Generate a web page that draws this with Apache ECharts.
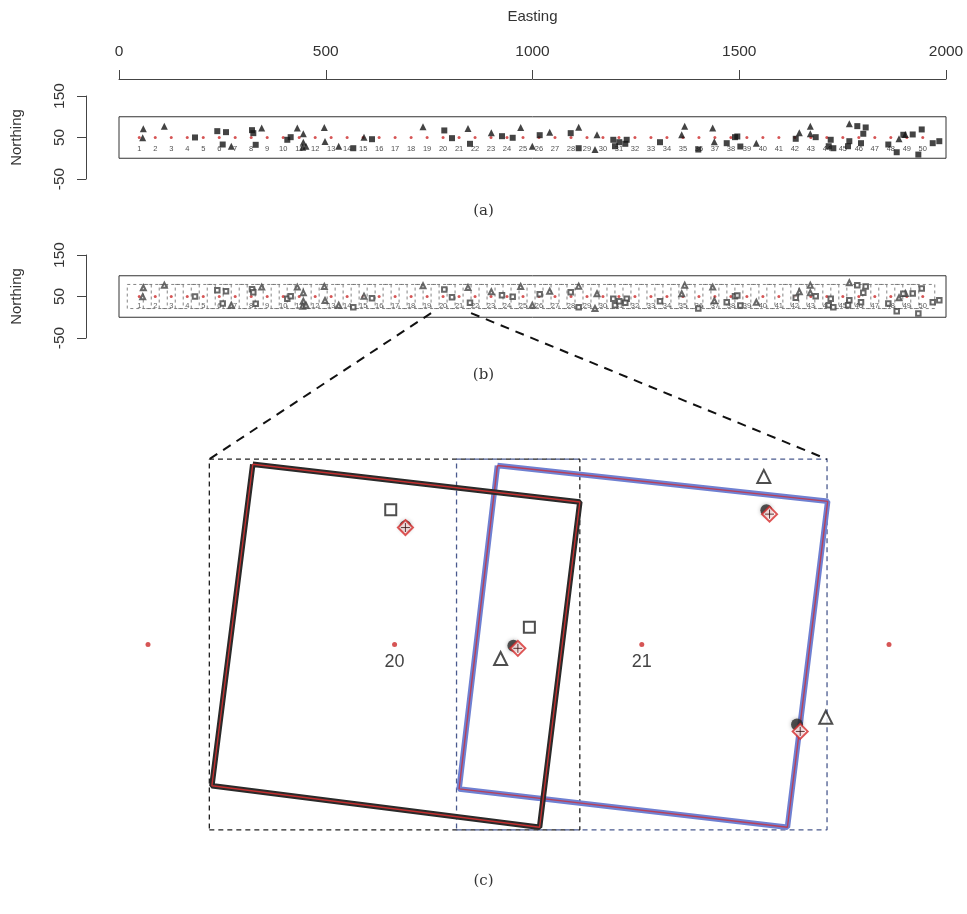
<!DOCTYPE html>
<html>
<head>
<meta charset="utf-8">
<script src="https://cdn.jsdelivr.net/npm/echarts@6/dist/echarts.min.js"></script>
<style>
  html, body { margin: 0; padding: 0; background: #fff; }
  #main { width: 967px; height: 914px; }
</style>
</head>
<body>
<div id="main"></div>
<script>
// sampling locations along the strip (easting of each cell centre, northing 50)
const cellCenterX = [49, 87.7, 126.3, 165, 203.7, 242.4, 281, 319.7, 358.4, 397,
  435.7, 474.4, 513, 551.7, 590.4, 629.1, 667.7, 706.4, 745.1, 783.7,
  822.4, 861.1, 899.7, 938.4, 977.1, 1015.8, 1054.4, 1093.1, 1131.8, 1170.4,
  1209.1, 1247.8, 1286.4, 1325.1, 1363.8, 1402.5, 1441.1, 1479.8, 1518.5, 1557.1,
  1595.8, 1634.5, 1673.1, 1711.8, 1750.5, 1789.2, 1827.8, 1866.5, 1905.2, 1943.8];
const centerNorthing = 50;
const frameHalf = 29;
const stripEasting = [0, 2000];
const stripNorthing = [0, 100];
const eastingTicks = [0, 500, 1000, 1500, 2000];
const northingTicks = [-50, 50, 150];

// observations in the strip (panels a and b)
const triangles = [[58.8, 71.1], [57.3, 49.3], [109.6, 77.4], [271.6, 29], [345.1, 72.6],
  [431.2, 72.6], [445.7, 59], [445.7, 38.7], [444.3, 26.6], [452.2, 29], [496.5, 74.2],
  [498.2, 40.4], [531.3, 29], [592.5, 50.8], [735.2, 75.9], [844, 71.8], [900.4, 61.4],
  [971.4, 74.2], [999.5, 29], [1041.6, 62.9], [1111.7, 75], [1156, 56.6], [1151.1, 21],
  [1368.1, 77.4], [1360.8, 56.6], [1435.8, 72.6], [1439.7, 39.7], [1541.3, 36.3],
  [1645.3, 61.4], [1671.8, 77.4], [1671.8, 59], [1766.2, 83.2], [1886.4, 46.9], [1901.6, 57.3]];
const squares = [[183.8, 50.1], [237.7, 65.3], [258.8, 62.9], [250.8, 33.1], [321.6, 67.7],
  [324.8, 60.5], [330.6, 32.4], [407, 44.5], [415.2, 50.8], [566.6, 24.2], [611.8, 45.9],
  [786.7, 67], [805.3, 48.4], [848.8, 34.8], [926.2, 53.2], [952.1, 49.3], [1017.4, 55.6],
  [1092.4, 60.5], [1111.7, 24.2], [1195.4, 44.5], [1199.5, 29], [1209.9, 38.7], [1227.8, 44.5],
  [1224.4, 34.8], [1308.3, 38.7], [1401, 21], [1469.7, 36.3], [1489.7, 50.8], [1495.3, 52.5],
  [1502.6, 28.3], [1636.6, 46.9], [1684.9, 50.8], [1716.4, 29], [1721.2, 44.5], [1727.5, 24.2],
  [1766.2, 41.1], [1763, 29], [1785.5, 77.4], [1805.8, 74.2], [1800, 59], [1794.5, 36.3],
  [1860.5, 33.1], [1880.8, 14.5], [1896.8, 56.6], [1919.5, 57.3], [1933.1, 8.9], [1941.3, 69.4],
  [1967.9, 36.3], [1983.8, 41.1]];

// zoomed view (panel c): cells 19-22, frames of cells 20 and 21
const zoomCells = [19, 20, 21, 22];
const labelledCells = [20, 21];
const quad20 = [[761.5, 78.2], [812.7, 72.3], [806.4, 21.4], [755.1, 27.9]];
const quad21 = [[799.8, 78.0], [851.5, 72.4], [845.2, 21.4], [793.8, 27.4]];
const squaresC = [[783.1, 71.1], [804.8, 52.7]];
const trianglesC = [[800.3, 47.8], [841.5, 76.3], [851.2, 38.6]];
const clustersC = [[785.4, 68.5], [802.3, 49.8], [841.9, 71.0], [846.7, 37.5]];
const diamondsC = [[785.4, 68.3], [803.0, 49.4], [842.4, 70.4], [847.2, 36.4]];

const sans = 'Liberation Sans, Arial, sans-serif';
const serif = 'DejaVu Serif, Liberation Serif, serif';
const red = '#cc2a2a';

function boxData() {
  return [[stripEasting[0], stripNorthing[0]], [stripEasting[1], stripNorthing[0]],
    [stripEasting[1], stripNorthing[1]], [stripEasting[0], stripNorthing[1]],
    [stripEasting[0], stripNorthing[0]]];
}
function frameData(cx) {
  const y = centerNorthing;
  return [[cx - frameHalf, y - frameHalf], [cx + frameHalf, y - frameHalf],
    [cx + frameHalf, y + frameHalf], [cx - frameHalf, y + frameHalf], [cx - frameHalf, y - frameHalf]];
}
function closed(q) { return q.concat([q[0]]); }

const centers = cellCenterX.map((x, i) => [x, centerNorthing, i + 1]);

function lineSeries(gi, data, color, width, type) {
  return {
    type: 'line', xAxisIndex: gi, yAxisIndex: gi, data: data, symbol: 'none', silent: true,
    lineStyle: { color: color, width: width, type: type || 'solid' }, z: 2
  };
}

let myChart = echarts.init(document.getElementById('main'), null, { renderer: 'canvas' });

const yAxisBase = {
  type: 'value', min: -50, max: 150, offset: 33,
  axisLine: { show: true, onZero: false, lineStyle: { color: '#444', width: 1 } },
  axisTick: { show: true, length: 9, customValues: northingTicks, lineStyle: { color: '#444' } },
  axisLabel: { show: true, rotate: 90, customValues: northingTicks, margin: 18, fontSize: 15.5, color: '#333',
    fontFamily: sans, formatter: v => String(v) },
  splitLine: { show: false },
  name: 'Northing', nameLocation: 'middle', nameGap: 62,
  nameTextStyle: { fontSize: 15, color: '#333', fontFamily: sans }
};

myChart.setOption({
  animation: false,
  backgroundColor: '#fff',
  textStyle: { fontFamily: sans },
  title: [
    { text: '(a)', left: 'center', top: 204, padding: 0, textStyle: { fontFamily: serif, fontWeight: 'normal', fontSize: 15, color: '#333' } },
    { text: '(b)', left: 'center', top: 368, padding: 0, textStyle: { fontFamily: serif, fontWeight: 'normal', fontSize: 15, color: '#333' } },
    { text: '(c)', left: 'center', top: 874, padding: 0, textStyle: { fontFamily: serif, fontWeight: 'normal', fontSize: 15, color: '#333' } }
  ],
  grid: [
    { left: 119, top: 96, width: 827, height: 83 },
    { left: 119, top: 255, width: 827, height: 83 },
    { left: 148, top: 440, width: 741, height: 409 }
  ],
  xAxis: [
    {
      gridIndex: 0, type: 'value', position: 'top', min: 0, max: 2000, interval: 500, offset: 17,
      axisLine: { show: true, onZero: false, lineStyle: { color: '#444', width: 1 } },
      axisTick: { show: true, length: 9, customValues: eastingTicks, lineStyle: { color: '#444' } },
      axisLabel: { margin: 19, fontSize: 15.5, color: '#333', fontFamily: sans, customValues: eastingTicks,
        formatter: v => String(v) },
      splitLine: { show: false },
      name: 'Easting', nameLocation: 'middle', nameGap: 55,
      nameTextStyle: { fontSize: 15, color: '#333', fontFamily: sans }
    },
    { gridIndex: 1, type: 'value', min: 0, max: 2000, show: false, splitLine: { show: false } },
    { gridIndex: 2, type: 'value', min: cellCenterX[18], max: cellCenterX[21], show: false, splitLine: { show: false } }
  ],
  yAxis: [
    Object.assign({ gridIndex: 0 }, yAxisBase),
    Object.assign({ gridIndex: 1 }, yAxisBase),
    { gridIndex: 2, type: 'value', min: 18, max: 82, show: false, splitLine: { show: false } }
  ],
  series: [
    // ---- panel (a)
    lineSeries(0, boxData(), '#333', 1),
    {
      type: 'scatter', xAxisIndex: 0, yAxisIndex: 0, data: centers, symbol: 'circle', symbolSize: 3,
      itemStyle: { color: red }, z: 3,
      label: { show: true, position: 'bottom', distance: 6, formatter: p => p.value[2], fontSize: 7.5, color: '#222' }
    },
    {
      type: 'scatter', xAxisIndex: 0, yAxisIndex: 0, data: triangles, symbol: 'triangle', symbolSize: 7,
      itemStyle: { color: '#151515' }, z: 4
    },
    {
      type: 'scatter', xAxisIndex: 0, yAxisIndex: 0, data: squares, symbol: 'rect', symbolSize: 6,
      itemStyle: { color: '#151515' }, z: 4
    },
    // ---- panel (b)
    lineSeries(1, boxData(), '#333', 1),
    {
      type: 'custom', xAxisIndex: 1, yAxisIndex: 1, data: centers, silent: true, z: 2,
      renderItem: function (params, api) {
        const cx = api.value(0), cy = api.value(1);
        const p1 = api.coord([cx - frameHalf, cy + frameHalf]);
        const p2 = api.coord([cx + frameHalf, cy - frameHalf]);
        return {
          type: 'rect',
          shape: { x: p1[0], y: p1[1], width: p2[0] - p1[0], height: p2[1] - p1[1] },
          style: { fill: 'none', stroke: '#666', lineWidth: 0.8, lineDash: [3, 3] }
        };
      }
    },
    {
      type: 'scatter', xAxisIndex: 1, yAxisIndex: 1, data: centers, symbol: 'circle', symbolSize: 3,
      itemStyle: { color: red }, z: 3,
      label: { show: true, position: 'bottom', distance: 4, formatter: p => p.value[2], fontSize: 7.5, color: '#333' }
    },
    {
      type: 'scatter', xAxisIndex: 1, yAxisIndex: 1, data: triangles, symbol: 'emptyTriangle', symbolSize: 5,
      itemStyle: { color: '#444', borderWidth: 0.8 }, z: 4
    },
    {
      type: 'scatter', xAxisIndex: 1, yAxisIndex: 1, data: squares, symbol: 'emptyRect', symbolSize: 4.5,
      itemStyle: { color: '#444', borderWidth: 0.8 }, z: 4
    },
    // ---- panel (c)
    lineSeries(2, frameData(cellCenterX[19]), '#222', 1.3, [5, 4]),
    lineSeries(2, frameData(cellCenterX[20]), '#4a5a8e', 1.3, [5, 4]),
    lineSeries(2, closed(quad21), '#6f80d2', 5.5),
    lineSeries(2, closed(quad21), '#b8405a', 1.4),
    lineSeries(2, closed(quad20), '#2a2a2a', 5.5),
    lineSeries(2, closed(quad20), '#c23030', 1.4),
    {
      type: 'scatter', xAxisIndex: 2, yAxisIndex: 2, clip: false, z: 5,
      data: zoomCells.map(c => ({
        value: [cellCenterX[c - 1], centerNorthing, c],
        label: { show: labelledCells.indexOf(c) >= 0 }
      })),
      symbol: 'circle', symbolSize: 5, itemStyle: { color: red },
      label: { position: 'bottom', distance: 6, formatter: p => p.value[2], fontSize: 18, color: '#111' }
    },
    {
      type: 'scatter', xAxisIndex: 2, yAxisIndex: 2, data: squaresC, symbol: 'emptyRect', symbolSize: 11,
      itemStyle: { color: '#222', borderWidth: 1.3 }, z: 5
    },
    {
      type: 'scatter', xAxisIndex: 2, yAxisIndex: 2, data: trianglesC, symbol: 'emptyTriangle', symbolSize: 13,
      itemStyle: { color: '#222', borderWidth: 1.3 }, z: 5
    },
    {
      type: 'scatter', xAxisIndex: 2, yAxisIndex: 2, data: clustersC, symbol: 'circle', symbolSize: 12,
      itemStyle: { color: '#2b2b2b', shadowBlur: 4, shadowColor: 'rgba(0,0,0,0.35)' }, z: 5
    },
    {
      type: 'scatter', xAxisIndex: 2, yAxisIndex: 2, data: diamondsC, symbol: 'circle', symbolSize: 9,
      itemStyle: { color: 'rgba(200,45,45,0.85)' }, z: 6
    },
    {
      type: 'scatter', xAxisIndex: 2, yAxisIndex: 2, data: diamondsC, symbol: 'emptyDiamond', symbolSize: 15,
      itemStyle: { color: '#d42a2a', borderWidth: 1.5 }, z: 7
    },
    {
      type: 'scatter', xAxisIndex: 2, yAxisIndex: 2, data: diamondsC, symbol: 'path://M5,0L5,10M0,5L10,5', symbolSize: 9,
      itemStyle: { color: 'none', borderColor: '#3a1010', borderWidth: 1 }, z: 8
    }
  ]
});

// dashed connectors from the zoomed frames in (b) to panel (c)
const leftFrame = cellCenterX[19] - frameHalf;
const rightFrame = cellCenterX[20] + frameHalf;
const b1 = myChart.convertToPixel({ gridIndex: 1 }, [leftFrame, 10]);
const b2 = myChart.convertToPixel({ gridIndex: 1 }, [rightFrame, 10]);
const c1 = myChart.convertToPixel({ gridIndex: 2 }, [leftFrame, centerNorthing + frameHalf]);
const c2 = myChart.convertToPixel({ gridIndex: 2 }, [rightFrame, centerNorthing + frameHalf]);
const dashStyle = { stroke: '#111', lineWidth: 2, lineDash: [9, 7] };
myChart.setOption({
  graphic: [
    { type: 'line', shape: { x1: b1[0], y1: b1[1], x2: c1[0], y2: c1[1] }, style: dashStyle, z: 10, silent: true },
    { type: 'line', shape: { x1: b2[0], y1: b2[1], x2: c2[0], y2: c2[1] }, style: dashStyle, z: 10, silent: true }
  ]
});

window.addEventListener('resize', function () {
  myChart.resize();
});
</script>
</body>
</html>
